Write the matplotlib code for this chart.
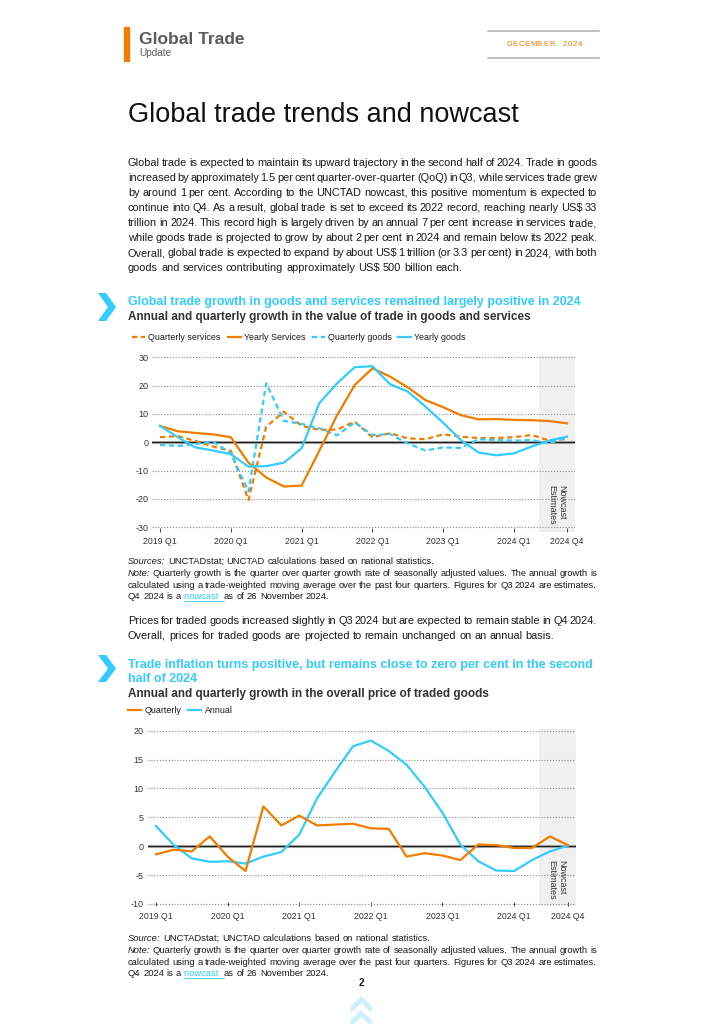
import matplotlib
matplotlib.use('Agg')
import numpy as np
import matplotlib.pyplot as plt
from matplotlib.lines import Line2D
from matplotlib.patches import Polygon, Rectangle
from matplotlib.transforms import Affine2D

plt.rcParams['font.family'] = ['Liberation Sans', 'DejaVu Sans']

ORANGE = '#F27C00'
BLUE = '#33CCFF'
GREY = '#5a5a5a'
INK = '#1a1a1a'

# ---- data ----
tick_pos = [0, 4, 8, 12, 16, 20, 23]
tick_labels = ['2019 Q1', '2020 Q1', '2021 Q1', '2022 Q1', '2023 Q1', '2024 Q1', '2024 Q4']

quarterly_services = [1.8, 2.2, 0.5, -1.5, -3.0, -20.4, 5.5, 10.8, 5.8, 4.4, 4.5, 7.3,
                      1.8, 3.2, 1.4, 1.1, 2.8, 2.0, 1.5, 1.5, 1.8, 2.6, 0.6, 1.2]
yearly_services = [5.8, 3.9, 3.3, 2.8, 1.8, -7.2, -12.4, -15.6, -15.3, -3.0, 9.5, 20.2,
                   26.1, 23.2, 19.4, 14.9, 12.4, 9.6, 8.1, 8.2, 7.9, 7.8, 7.5, 6.7]
quarterly_goods = [-0.9, -1.3, -0.6, 0.2, -3.9, -17.4, 20.8, 7.6, 6.5, 4.9, 2.5, 7.0,
                   2.6, 2.9, -0.4, -2.9, -1.8, -2.0, 1.1, 0.8, 0.6, 0.8, -0.4, 1.8]
yearly_goods = [5.8, 1.8, -1.8, -2.9, -4.2, -8.6, -8.4, -7.2, -2.1, 13.8, 20.8, 26.5,
                26.9, 20.5, 17.9, 12.6, 6.9, 0.8, -3.6, -4.6, -3.9, -1.5, 0.6, 2.0]
trade_yticks = [-30, -20, -10, 0, 10, 20, 30]
trade_ylabels = ['-30', '-20', '-10', '0', '10', '20', '30']

price_quarterly = [-1.4, -0.6, -0.9, 1.7, -1.8, -4.3, 6.9, 3.6, 5.3, 3.6, 3.75, 3.9,
                   3.1, 3.0, -1.8, -1.2, -1.6, -2.4, 0.3, 0.2, -0.3, -0.3, 1.7, 0.2]
price_annual = [3.5, 0.2, -2.1, -2.7, -2.6, -3.0, -1.8, -1.0, 2.0, 8.3, 12.9, 17.3,
                18.3, 16.5, 14.1, 10.3, 5.8, 0.3, -2.6, -4.2, -4.3, -2.4, -0.9, 0.1]
price_yticks = [-10, -5, 0, 5, 10, 15, 20]
price_ylabels = ['-10', '-5', '0', '5', '10', '15', '20']

nowcast_start = 21.4

body = [
    "Global trade is expected to maintain its upward trajectory in the second half of 2024. Trade in goods",
    "increased by approximately 1.5 per cent quarter-over-quarter (QoQ) in Q3, while services trade grew",
    "by around 1 per cent. According to the UNCTAD nowcast, this positive momentum is expected to",
    "continue into Q4. As a result, global trade is set to exceed its 2022 record, reaching nearly US$ 33",
    "trillion in 2024. This record high is largely driven by an annual 7 per cent increase in services trade,",
    "while goods trade is projected to grow by about 2 per cent in 2024 and remain below its 2022 peak.",
    "Overall, global trade is expected to expand by about US$ 1 trillion (or 3.3 per cent) in 2024, with both",
    "goods and services contributing approximately US$ 500 billion each.",
]
body2 = [
    "Prices for traded goods increased slightly in Q3 2024 but are expected to remain stable in Q4 2024.",
    "Overall, prices for traded goods are projected to remain unchanged on an annual basis.",
]
note1 = "Quarterly growth is the quarter over quarter growth rate of seasonally adjusted values. The annual growth is"
note2 = "calculated using a trade-weighted moving average over the past four quarters. Figures for Q3 2024 are estimates."
src_text = "UNCTADstat; UNCTAD calculations based on national statistics."

BODY_SIZE = 7.95
NOTE_SIZE = 6.75

# ---- page ----
W, H = 724, 1024
fig = plt.figure(figsize=(W / 100, H / 100), dpi=100)
fig.patch.set_facecolor('white')
pix = Affine2D().scale(1.0 / W, -1.0 / H).translate(0, 1) + fig.transFigure
R = fig.canvas.get_renderer()


def width_of(s, **kw):
    t = fig.text(0, 0, s, transform=pix, parse_math=False, **kw)
    w = t.get_window_extent(renderer=R).width
    t.remove()
    return w


def put_line(y, runs, size, justify=False, x0=128.0, x1=597.0, color=INK):
    # runs: list of (word, extra kwargs, underline); words justified between x0 and x1
    y = round(y)
    items = []
    for word, kw, ul in runs:
        style = dict(fontsize=size, color=color, va='baseline', ha='left')
        style.update(kw)
        t = fig.text(0, y, word, transform=pix, parse_math=False, **style)
        items.append((t, t.get_window_extent(renderer=R).width, ul, style['color']))
    sp = width_of('n n', fontsize=size) - width_of('nn', fontsize=size)
    gap = sp
    if justify and len(items) > 1:
        gap = (x1 - x0 - sum(w for _, w, _, _ in items)) / (len(items) - 1)
    x = x0
    for t, w, ul, c in items:
        t.set_x(x)
        if ul:
            fig.add_artist(Line2D([x, x + w + gap], [y + 1.5, y + 1.5], color=c,
                                  lw=0.6, transform=pix))
        x += w + gap


def plain(s, **kw):
    return [(w, kw, False) for w in s.split(' ')]


# header
fig.add_artist(Rectangle((124.3, 27.3), 4.7, 33.4, color=ORANGE, transform=pix))
fig.text(139, 44, 'Global Trade', transform=pix, fontsize=12.5, fontweight='bold',
         color=GREY, va='baseline')
fig.text(139.5, 56.5, 'Update', transform=pix, fontsize=7.2, color=GREY, va='baseline')
for yy in (30.7, 57.7):
    fig.add_artist(Line2D([488, 599], [yy, yy], color='#b3aca6', lw=1.1, transform=pix))
xx = 506.0
for ch in 'DECEMBER':
    fig.text(xx, 46, ch, transform=pix, fontsize=5.6, color=ORANGE, va='baseline')
    xx += 6.15
xx = 562.3
for ch in '2024':
    fig.text(xx, 46, ch, transform=pix, fontsize=5.6, color=ORANGE, va='baseline')
    xx += 5.2

fig.text(127.5, 121.7, 'Global trade trends and nowcast', transform=pix, fontsize=19.5,
         color='#111111', va='baseline')

for i, line in enumerate(body):
    put_line(166.5 + 14.86 * i, plain(line), BODY_SIZE, justify=(i < len(body) - 1))


def chevron(y0, y1):
    ym = (y0 + y1) / 2
    pts = [(98, y0), (106, y0), (116, ym), (106, y1), (98, y1), (108, ym)]
    fig.add_artist(Polygon(pts, closed=True, color=BLUE, lw=0, transform=pix))


def legend_item(x, y, color, ls, label):
    fig.add_artist(Line2D([x, x + 13], [y, y], color=color, lw=1.6, ls=ls, transform=pix))
    fig.text(x + 16.5, y + 3.3, label, transform=pix, fontsize=6.4, color=INK,
             va='baseline', parse_math=False)


DASH = (0, (2.4, 1.6))


def style_axes(ax, xlim, ylim, yticks, ylabels, ypad, nowcast_xy):
    ax.set_xlim(*xlim)
    ax.set_ylim(*ylim)
    for s in ax.spines.values():
        s.set_visible(False)
    ax.set_facecolor('none')
    ax.set_axisbelow(True)
    ax.set_yticks(yticks)
    ax.set_yticklabels(ylabels)
    ax.yaxis.grid(True, linestyle=(0, (1, 1.6)), color='#8a8a8a', lw=0.8)
    ax.tick_params(axis='y', length=0, pad=ypad, labelsize=6.5, labelcolor='#333333')
    ax.set_xticks(tick_pos)
    ax.set_xticklabels(tick_labels)
    ax.tick_params(axis='x', direction='in', length=3, width=0.7, color='#444444',
                   pad=4, labelsize=6.3, labelcolor='#333333')
    ax.axvspan(nowcast_start, xlim[1] + 1, color='#f0f0f0', zorder=0, lw=0)
    ax.axhline(0, color='#bbbbbb', lw=2.2, zorder=1.5)
    ax.axhline(0, color='#222222', lw=1.0, zorder=1.6)
    ax.text(nowcast_xy[0], nowcast_xy[1], 'Nowcast\nEstimates', rotation=-90,
            ha='center', va='top', multialignment='left', fontsize=6.5,
            color='#333333', linespacing=1.2)


def add_axes_px(l, r, t, b):
    return fig.add_axes([l / W, 1 - b / H, (r - l) / W, (b - t) / H])


# chart 1
chevron(293, 321)
fig.text(128, 305, 'Global trade growth in goods and services remained largely positive in 2024',
         transform=pix, fontsize=9, fontweight='bold', color=BLUE, va='baseline')
fig.text(128, 320, 'Annual and quarterly growth in the value of trade in goods and services',
         transform=pix, fontsize=8.5, fontweight='bold', color='#333333', va='baseline')
legend_item(131.7, 336.7, ORANGE, DASH, 'Quarterly services')
legend_item(227.5, 336.7, ORANGE, '-', 'Yearly Services')
legend_item(311.5, 336.7, BLUE, DASH, 'Quarterly goods')
legend_item(397.5, 336.7, BLUE, '-', 'Yearly goods')

ax1 = add_axes_px(151.7, 575.0, 356.2, 531.8)
x1 = np.arange(len(yearly_goods))
ax1.plot(x1, quarterly_services, color=ORANGE, lw=1.6, ls=DASH, zorder=3)
ax1.plot(x1, quarterly_goods, color=BLUE, lw=1.6, ls=DASH, zorder=3)
ax1.plot(x1, yearly_services, color=ORANGE, lw=1.6, zorder=4)
ax1.plot(x1, yearly_goods, color=BLUE, lw=1.6, zorder=4)
style_axes(ax1, (-0.47, 23.45), (-31.6, 30.4), trade_yticks, trade_ylabels, 2.5, (22.43, -15.1))

put_line(564.5, [('Sources:', {'fontstyle': 'italic'}, False)] + plain(src_text), NOTE_SIZE)
put_line(576.0, [('Note:', {'fontstyle': 'italic'}, False)] + plain(note1), NOTE_SIZE, justify=True)
put_line(587.5, plain(note2), NOTE_SIZE, justify=True)
put_line(599.0, plain('Q4 2024 is a') + [('nowcast ', {'color': BLUE}, True)]
         + plain('as of 26 November 2024.'), NOTE_SIZE)

for i, line in enumerate(body2):
    put_line(624.2 + 14.86 * i, plain(line), BODY_SIZE, justify=(i == 0))

# chart 2
chevron(655, 682)
fig.text(128, 668, 'Trade inflation turns positive, but remains close to zero per cent in the second',
         transform=pix, fontsize=9, fontweight='bold', color=BLUE, va='baseline')
fig.text(128, 681.5, 'half of 2024', transform=pix, fontsize=9, fontweight='bold',
         color=BLUE, va='baseline')
fig.text(128, 696.5, 'Annual and quarterly growth in the overall price of traded goods',
         transform=pix, fontsize=8.5, fontweight='bold', color='#333333', va='baseline')
legend_item(127.7, 710, ORANGE, '-', 'Quarterly')
legend_item(188.3, 710, BLUE, '-', 'Annual')

ax2 = add_axes_px(148.3, 576.0, 729.0, 906.3)
x2 = np.arange(len(price_annual))
ax2.plot(x2, price_quarterly, color=ORANGE, lw=1.6, zorder=4)
ax2.plot(x2, price_annual, color=BLUE, lw=1.6, zorder=3)
style_axes(ax2, (-0.43, 23.46), (-10.4, 20.3), price_yticks, price_ylabels, 3.6, (22.39, -2.3))

put_line(941.3, [('Source:', {'fontstyle': 'italic'}, False)] + plain(src_text), NOTE_SIZE)
put_line(953.0, [('Note:', {'fontstyle': 'italic'}, False)] + plain(note1), NOTE_SIZE, justify=True)
put_line(964.6, plain(note2), NOTE_SIZE, justify=True)
put_line(976.2, plain('Q4 2024 is a') + [('nowcast ', {'color': BLUE}, True)]
         + plain('as of 26 November 2024.'), NOTE_SIZE)

# page number and footer mark
fig.text(361.5, 986, '2', transform=pix, fontsize=7, fontweight='bold', color=INK,
         ha='center', va='baseline')
for top in (996, 1010):
    cx, w, h, t = 361.2, 21, 10, 7
    pts = [(cx - w / 2, top + h), (cx, top), (cx + w / 2, top + h),
           (cx + w / 2, top + h + t), (cx, top + t), (cx - w / 2, top + h + t)]
    fig.add_artist(Polygon(pts, closed=True, color='#cdf0fc', lw=0, transform=pix))

fig.savefig('out.png', dpi=100)
